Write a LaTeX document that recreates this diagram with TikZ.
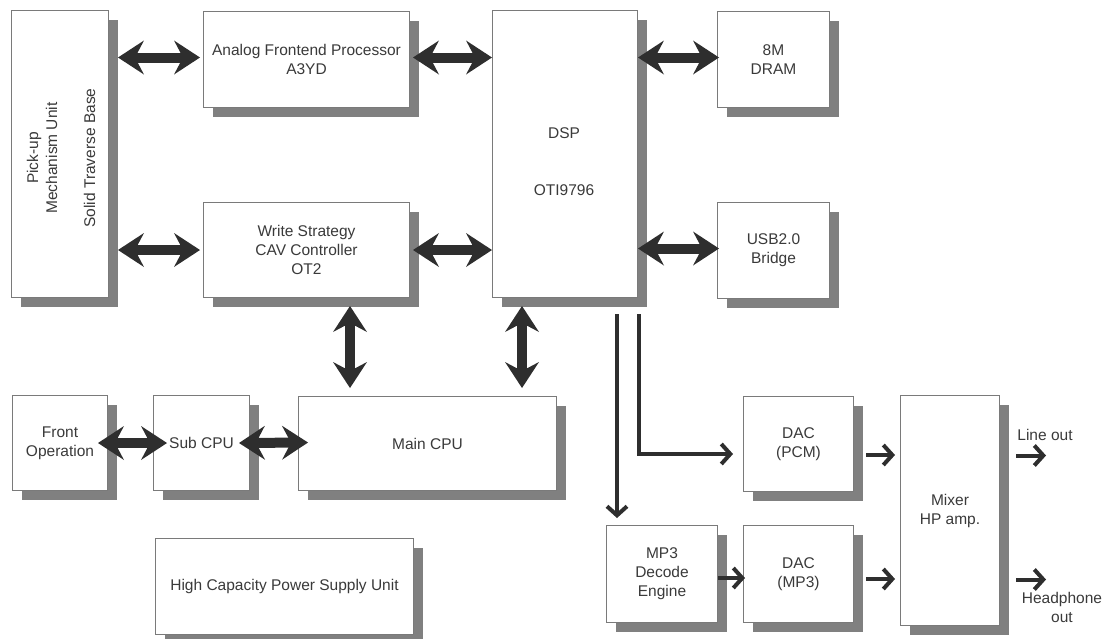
\documentclass[tikz,border=0pt]{standalone}
\usepackage{fontspec}
\setmainfont{Liberation Sans}
\usetikzlibrary{arrows.meta,shadows,calc}
\definecolor{boxline}{HTML}{7A7A7A}
\definecolor{shadowgray}{HTML}{808080}
\definecolor{arrowdark}{HTML}{2E2E2E}
\definecolor{txt}{HTML}{3A3A3A}
\begin{document}
\begin{tikzpicture}[x=1pt,y=-1pt,
  blk/.style={draw=boxline, line width=1pt, fill=white, inner sep=0pt, align=center,
    anchor=north west, text=txt, font=\fontsize{15.5}{19}\selectfont,
    drop shadow={shadow xshift=9pt, shadow yshift=-9pt, fill=shadowgray, opacity=1}},
  lbl/.style={text=txt, align=center, inner sep=0pt, font=\fontsize{15.5}{19}\selectfont},
  dbl/.style={line width=10pt, draw=arrowdark,
    {Stealth[length=26pt,width=34pt,inset=9pt,line width=0pt]}-{Stealth[length=26pt,width=34pt,inset=9pt,line width=0pt]}},
  sgl/.style={line width=4pt, draw=arrowdark, -{Straight Barb[length=9pt,width=20pt]}}
]
\useasboundingbox (0,0) rectangle (1110,638);

% boxes
\node[blk, minimum width=97pt, minimum height=287pt] (pick) at (11,10) {};
\node[lbl, rotate=90] (picktxt) at (61,158) {Pick-up\\Mechanism Unit\\[19pt]Solid Traverse Base};
\node[blk, minimum width=206pt, minimum height=96pt] (afp) at (203,11) {Analog Frontend Processor\\A3YD};
\node[blk, minimum width=206pt, minimum height=95pt] (ws) at (203,202) {Write Strategy\\CAV Controller\\OT2};
\node[blk, minimum width=145pt, minimum height=287pt] (dsp) at (492,10) {};
\node[lbl] (dsptxt) at (564,162) {DSP\\[38pt]OTI9796};
\node[blk, minimum width=112pt, minimum height=96pt] (dram) at (717,11) {8M\\DRAM};
\node[blk, minimum width=112pt, minimum height=96pt] (usb) at (717,202) {USB2.0\\Bridge};
\node[blk, minimum width=95pt, minimum height=95pt] (front) at (12,395) {Front\\Operation};
\node[blk, minimum width=96pt, minimum height=95pt] (sub) at (153,395) {Sub CPU};
\node[blk, minimum width=258pt, minimum height=94pt] (main) at (298,396) {Main CPU};
\node[blk, minimum width=258pt, minimum height=96pt] (psu) at (155,538) {High Capacity Power Supply Unit};
\node[blk, minimum width=111pt, minimum height=97pt] (mp3) at (606,525) {MP3\\Decode\\Engine};
\node[blk, minimum width=110pt, minimum height=95pt] (dacp) at (743,396) {DAC\\(PCM)};
\node[blk, minimum width=110pt, minimum height=97pt] (dacm) at (743,525) {DAC\\(MP3)};
\node[blk, minimum width=99pt, minimum height=230pt] (mix) at (900,395) {Mixer\\HP amp.};

% double arrows
\draw[dbl] ($(pick.east |- afp.west)+(9,-2)$) -- ($(afp.west)+(-3,-2)$);
\draw[dbl] ($(pick.east |- ws.west)+(9,0)$) -- ($(ws.west)+(-3,0)$);
\draw[dbl] ($(afp.east)+(3,-2)$) -- ($(afp.east -| dsp.west)+(0,-2)$);
\draw[dbl] ($(ws.east)+(3,0)$) -- ($(ws.east -| dsp.west)+(0,0)$);
\draw[dbl] ($(dram.west -| dsp.east)+(0,-2)$) -- ($(dram.west)+(2,-2)$);
\draw[dbl] ($(usb.west -| dsp.east)+(0,-2)$) -- ($(usb.west)+(2,-2)$);
\coordinate (wsm) at ($(ws.south west)+(147,8)$);
\draw[dbl] (wsm) -- ($(wsm |- main.north)+(0,-8)$);
\coordinate (dspm) at ($(dsp.south west)+(30,8)$);
\draw[dbl] (dspm) -- ($(dspm |- main.north)+(0,-8)$);
\draw[dbl] ($(front.east)+(-10,0)$) -- ($(sub.west)+(14,0)$);
\draw[dbl] ($(sub.east)+(-11,0)$) -- ($(main.west)+(10,-1)$);

% signal arrows
\coordinate (dspa) at ($(dsp.south west)+(125,16)$);
\draw[sgl] (dspa) -- ($(dspa |- mp3.north)+(0,-7)$);
\coordinate (dspb) at ($(dsp.south east)+(1,16)$);
\coordinate (pcmin) at ($(dacp.west)+(-10,10)$);
\draw[sgl] (dspb) |- (pcmin);
\draw[sgl] ($(dacp.east)+(12,11)$) -- ($(dacp.east -| mix.west)+(-5,11)$);
\draw[sgl] ($(dacm.east)+(12,5)$) -- ($(dacm.east -| mix.west)+(-5,5)$);
\draw[sgl] ($(mp3.east)+(0,4)$) -- ($(dacm.west)+(2,4)$);
\coordinate (lineo) at ($(mix.east)+(46,-55)$);
\coordinate (hpo) at ($(mix.east)+(46,69)$);
\draw[sgl] ($(mix.east)+(16,-55)$) -- (lineo);
\draw[sgl] ($(mix.east)+(16,69)$) -- (hpo);

% output labels
\node[lbl] (linelbl) at (1045,435) {Line out};
\node[lbl] (hplbl) at (1062,607) {Headphone\\out};
\end{tikzpicture}
\end{document}
